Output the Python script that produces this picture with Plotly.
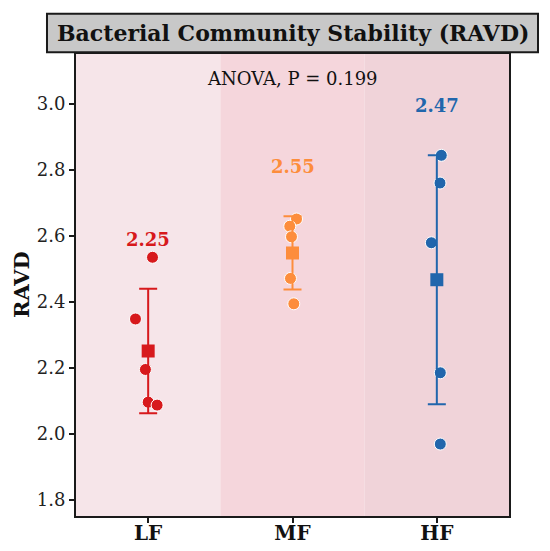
import plotly.graph_objects as go

groups = ["LF", "MF", "HF"]
colors = ["#d7191c", "#fd8d3c", "#2166ac"]
band_colors = ["#f6e5e9", "#f5d6dc", "#f0d3d9"]

# individual samples (RAVD)
lf_vals = [2.534, 2.347, 2.194, 2.095, 2.086]
mf_vals = [2.650, 2.628, 2.596, 2.470, 2.393]
hf_vals = [2.843, 2.759, 2.578, 2.184, 1.968]
# horizontal jitter of the dots
lf_jit = [0.03, -0.088, -0.019, 0.0, 0.062]
mf_jit = [0.028, -0.019, -0.007, -0.014, 0.009]
hf_jit = [0.031, 0.022, -0.038, 0.024, 0.024]

means = [2.25, 2.547, 2.466]
sds = [0.189, 0.111, 0.377]
mean_labels = ["2.25", "2.55", "2.47"]
p_value = 0.199

vals = [lf_vals, mf_vals, hf_vals]
jits = [lf_jit, mf_jit, hf_jit]

font = "DejaVu Serif"
fig = go.Figure()

for i, g in enumerate(groups):
    fig.add_shape(type="rect", xref="x", yref="paper", x0=i - 0.5, x1=i + 0.5,
                  y0=0, y1=1, fillcolor=band_colors[i], line_width=0, layer="below")
    fig.add_trace(go.Scatter(
        x=[i + j for j in jits[i]], y=vals[i], mode="markers",
        marker=dict(symbol="circle", size=12, color=colors[i],
                    line=dict(color="white", width=1)),
        showlegend=False, hoverinfo="y"))
    fig.add_trace(go.Scatter(
        x=[i], y=[means[i]], mode="markers",
        marker=dict(symbol="square", size=13, color=colors[i]),
        error_y=dict(type="data", array=[sds[i]], color=colors[i],
                     thickness=2, width=9),
        showlegend=False, hoverinfo="y"))
    fig.add_annotation(x=i, y=means[i] + sds[i] + 0.15, text="<b>%s</b>" % mean_labels[i],
                       showarrow=False, font=dict(family=font, size=18, color=colors[i]))

fig.add_annotation(x=1, y=3.075, text="ANOVA, P = %.3f" % p_value, showarrow=False,
                   font=dict(family=font, size=18, color="#111111"))

# title box
fig.add_shape(type="rect", xref="paper", yref="paper", x0=-0.067, x1=1.067,
              y0=1.004, y1=1.087, fillcolor="#c8c8c8",
              line=dict(color="#1a1a1a", width=2))
fig.add_annotation(xref="paper", yref="paper", x=0.5, y=1.045, yanchor="middle",
                   text="<b>Bacterial Community Stability (RAVD)</b>", showarrow=False,
                   font=dict(family=font, size=22, color="#111111"))

# y axis label
fig.add_annotation(xref="paper", yref="paper", x=-0.127, y=0.5, textangle=-90,
                   xanchor="center", yanchor="middle", text="<b>RAVD</b>", showarrow=False,
                   font=dict(family=font, size=21, color="#111111"))

fig.update_layout(
    width=550, height=551,
    margin=dict(l=76, r=41, t=54, b=35),
    paper_bgcolor="white", plot_bgcolor="white",
    font=dict(family=font, size=18, color="#222222"),
)
fig.update_xaxes(range=[-0.5, 2.5], tickvals=[0, 1, 2],
                 ticktext=["<b>%s</b>" % g for g in groups],
                 tickfont=dict(size=20, color="#111111"), ticklabelstandoff=-7,
                 showgrid=False, zeroline=False, showline=True, mirror=True,
                 linecolor="#1a1a1a", linewidth=2, ticks="outside",
                 ticklen=5, tickwidth=1.5, tickcolor="#1a1a1a", automargin=False)
fig.update_yaxes(range=[1.75, 3.15], tickvals=[1.8, 2.0, 2.2, 2.4, 2.6, 2.8, 3.0],
                 tickformat=".1f", tickfont=dict(size=18),
                 showgrid=False, zeroline=False, showline=True, mirror=True,
                 linecolor="#1a1a1a", linewidth=2, ticks="outside",
                 ticklen=5, tickwidth=1.5, tickcolor="#1a1a1a", automargin=False)

fig.write_html("out.html", config={"displayModeBar": False},
               post_script="document.body.style.margin='0';document.body.style.overflow='hidden';")
